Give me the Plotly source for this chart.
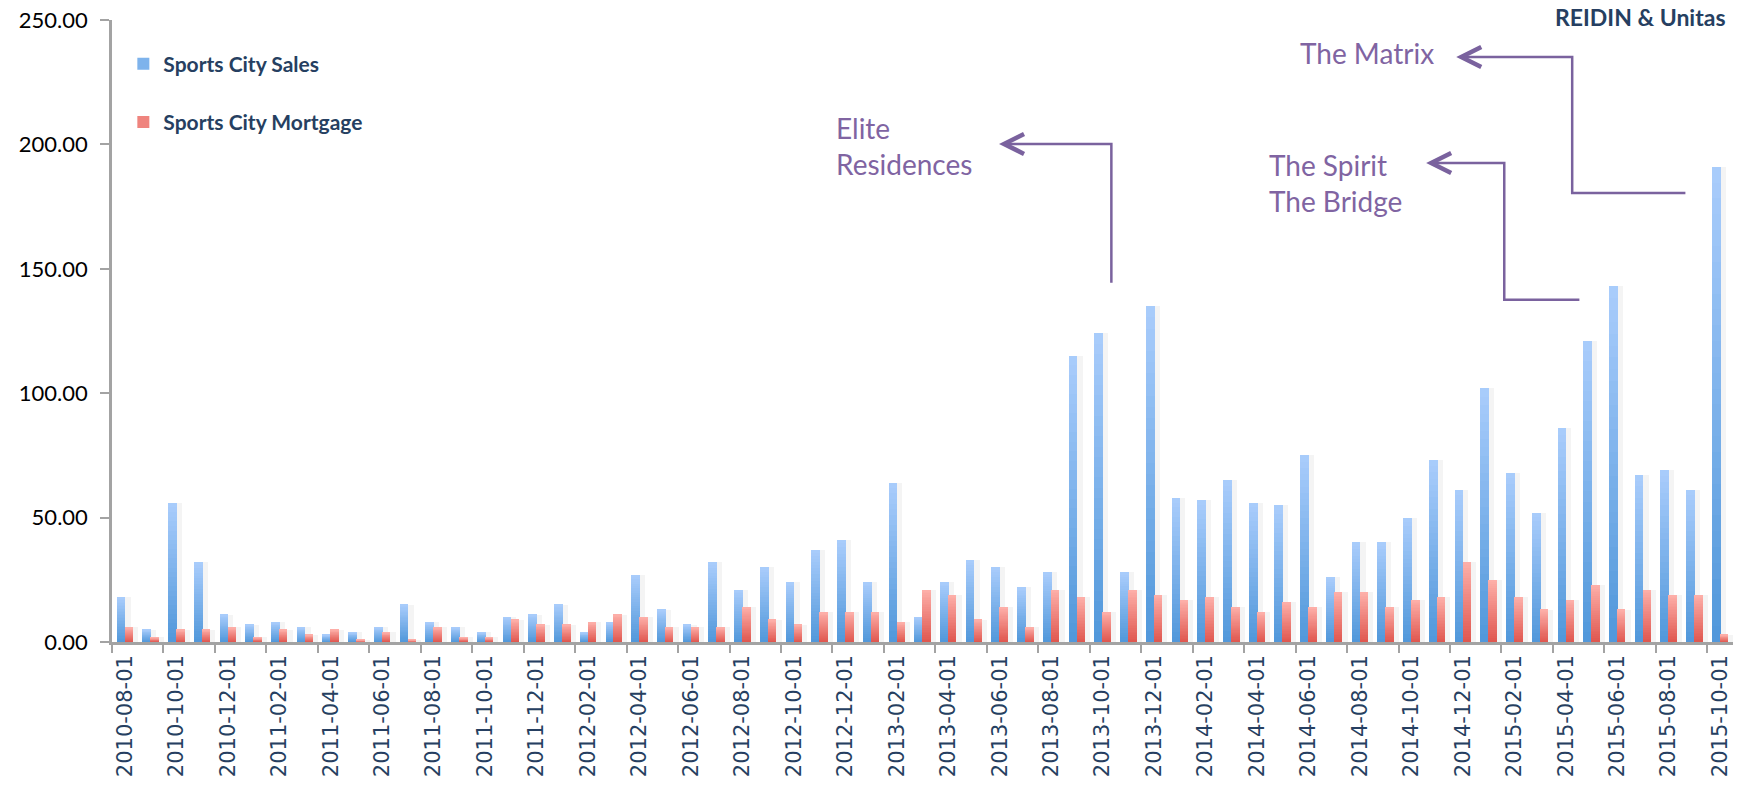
import plotly.graph_objects as go
import pandas as pd

# Monthly categories, Aug 2010 .. Oct 2015
months = pd.date_range("2010-08-01", "2015-10-01", freq="MS").strftime("%Y-%m-%d").tolist()

# Transactions per month
sales = [18, 5, 56, 32, 11, 7, 8, 6, 3, 4, 6, 15, 8, 6, 4, 10, 11, 15, 4, 8,
         27, 13, 7, 32, 21, 30, 24, 37, 41, 24, 64, 10, 24, 33, 30, 22, 28, 115,
         124, 28, 135, 58, 57, 65, 56, 55, 75, 26, 40, 40, 50, 73, 61, 102, 68,
         52, 86, 121, 143, 67, 69, 61, 191]
mortgage = [6, 2, 5, 5, 6, 2, 5, 3, 5, 1, 4, 1, 6, 2, 2, 9, 7, 7, 8, 11,
            10, 6, 6, 6, 14, 9, 7, 12, 12, 12, 8, 21, 19, 9, 14, 6, 21, 18,
            12, 21, 19, 17, 18, 14, 12, 16, 14, 20, 20, 14, 17, 18, 32, 25, 18,
            13, 17, 23, 13, 21, 19, 19, 3]

series_names = ["Sports City Sales", "Sports City Mortgage"]

# Callout texts: (label, text left x, text centre y, connector polyline ending at the arrow tip)
callouts = [
    ("Elite<br>Residences", 27.57, 199.2, [(38.34, 144.4), (38.34, 200.2), (34.13, 200.2)]),
    ("The Spirit<br>The Bridge", 44.39, 184.3, [(56.53, 137.6), (53.61, 137.6), (53.61, 192.5), (50.73, 192.5)]),
    ("The Matrix", 45.6, 236.9, [(60.65, 180.5), (56.25, 180.5), (56.25, 235.1), (51.9, 235.1)]),
]

NAVY = "#263f61"
PURPLE_TXT = "#8064a2"
PURPLE_LN = "#7a629e"
AXIS = "#a3a3a3"

# bottom colour, top colour, bar offset, bar width (in category units)
styles = {
    "Sports City Sales": ((80, 151, 218), (170, 205, 252), -0.32, 0.34),
    "Sports City Mortgage": ((224, 86, 78), (253, 176, 170), -0.01, 0.33),
}

N_STEPS = 30


def lerp(c0, c1, t):
    return "rgb(%d,%d,%d)" % tuple(round(a + (b - a) * t) for a, b in zip(c0, c1))


fig = go.Figure()

for name, values in zip(series_names, [sales, mortgage]):
    c_bot, c_top, off, wid = styles[name]
    group = name
    # soft drop shadow to the right of each bar
    fig.add_trace(go.Bar(
        x=months, y=values, offset=off + wid, width=0.2,
        marker=dict(color="rgba(0,0,0,0.045)", line=dict(width=0)),
        showlegend=False, legendgroup=group, hoverinfo="skip",
    ))
    # vertical gradient: each step covers the bar from its own base up to the top
    for k in range(N_STEPS):
        frac = k / N_STEPS
        fig.add_trace(go.Bar(
            x=months,
            base=[v * frac for v in values],
            y=[v * (1 - frac) for v in values],
            offset=off, width=wid,
            marker=dict(color=lerp(c_bot, c_top, (k + 0.5) / N_STEPS), line=dict(width=0)),
            name=name, legendgroup=group,
            showlegend=(k == N_STEPS // 2),
            hoverinfo="skip" if k else "x+name",
        ))

shapes = []
annotations = []
for text, tx, ty, pts in callouts:
    annotations.append(dict(
        x=tx, y=ty, xref="x", yref="y", text=text, showarrow=False,
        xanchor="left", yanchor="middle", align="left",
        font=dict(family="Lato", size=28, color=PURPLE_TXT),
    ))
    path = "M " + " L ".join(f"{x},{y}" for x, y in pts)
    shapes.append(dict(type="path", path=path, xref="x", yref="y",
                       line=dict(color=PURPLE_LN, width=2.5), layer="above"))
    tip_x, tip_y = pts[-1]
    shapes.append(dict(type="path", xref="x", yref="y",
                       xsizemode="pixel", ysizemode="pixel",
                       xanchor=tip_x, yanchor=tip_y,
                       path="M 21,10 L 1,0 L 21,-10",
                       line=dict(color=PURPLE_LN, width=4.5), layer="above"))

annotations.append(dict(
    x=0.9969, y=1.0043, xref="paper", yref="paper", text="<b>REIDIN &amp; Unitas</b>",
    showarrow=False, xanchor="right", yanchor="middle",
    font=dict(family="Lato", size=23, color=NAVY),
))

fig.update_layout(
    width=1746, height=786,
    margin=dict(l=112, r=13, t=20, b=144, autoexpand=False),
    paper_bgcolor="white", plot_bgcolor="white",
    barmode="overlay", bargap=0,
    shapes=shapes, annotations=annotations,
    showlegend=True,
    legend=dict(
        x=0.007, y=0.962, xanchor="left", yanchor="top",
        traceorder="grouped", tracegroupgap=28,
        font=dict(family="Lato", size=21, color=NAVY, weight="bold"),
        bgcolor="rgba(0,0,0,0)",
    ),
    xaxis=dict(
        type="category", categoryorder="array", categoryarray=months,
        range=[-0.5, len(months) - 0.5],
        tickmode="linear", tick0=0, dtick=2, tickson="boundaries",
        tickangle=-90, ticks="outside", ticklen=8, tickwidth=2, tickcolor=AXIS,
        showline=True, linecolor=AXIS, linewidth=2.5, showgrid=False,
        tickfont=dict(family="DejaVu Sans", size=21, color=NAVY),
        ticklabelstandoff=2,
    ),
    yaxis=dict(
        range=[0, 250], tickmode="linear", tick0=0, dtick=50, tickformat=".2f",
        ticks="outside", ticklen=9, tickwidth=2, tickcolor=AXIS,
        showline=True, linecolor=AXIS, linewidth=2.5, showgrid=False, zeroline=False,
        tickfont=dict(family="Lato", size=22, color="black"),
        ticklabelstandoff=8,
    ),
)

fig.write_html("out.html")
